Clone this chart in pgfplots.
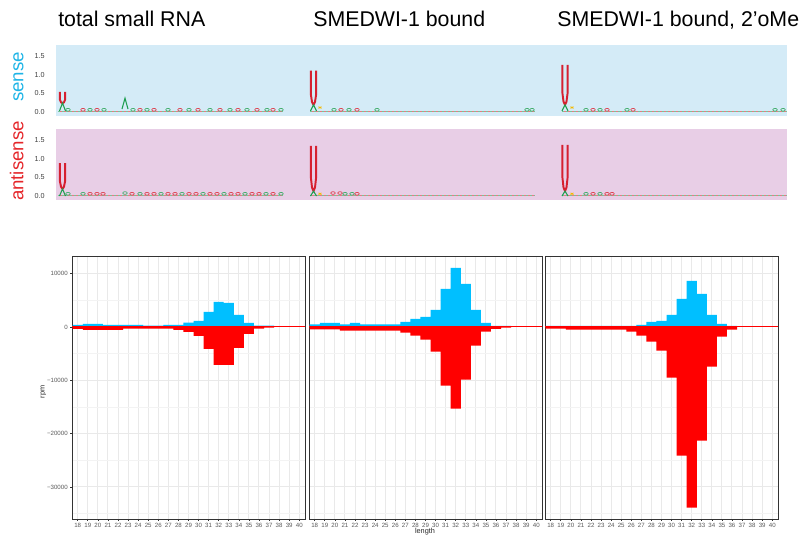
\documentclass[border=0pt]{standalone}
\usepackage{pgfplots}
\pgfplotsset{compat=1.18}
\usepackage{fontspec}
\setmainfont{Liberation Sans}
\definecolor{barblue}{HTML}{00BFFF}
\definecolor{barred}{HTML}{FF0000}
\definecolor{senseTxt}{RGB}{30,180,230}
\definecolor{antiTxt}{RGB}{229,38,42}
\definecolor{senseBG}{RGB}{212,235,247}
\definecolor{antiBG}{RGB}{232,206,230}
\definecolor{logoU}{RGB}{214,32,48}
\definecolor{logoA}{RGB}{30,158,80}
\definecolor{logoY}{RGB}{245,184,0}
\definecolor{logoBase}{RGB}{190,195,160}
\definecolor{gridmaj}{RGB}{233,233,233}
\definecolor{gridmin}{RGB}{243,243,243}
\definecolor{frame}{RGB}{51,51,51}
\pgfplotsset{
 panel/.style={scale only axis, anchor=north west, width=174.75pt, height=197.25pt,
  xmin=17.43, xmax=40.57, ymin=-36000, ymax=13300,
  ybar, bar width=1, bar shift=0pt,
  xtick={18,...,40}, ytick={-30000,-20000,-10000,0,10000},
  minor ytick={-35000,-25000,-15000,-5000,5000},
  scaled y ticks=false, tick pos=left,
  grid=both, major grid style={draw=gridmaj, line width=0.75pt},
  minor grid style={draw=gridmin, line width=0.4pt},
  axis line style={draw=frame, line width=0.75pt},
  tick align=outside, major tick length=1.5pt, minor tick length=0pt,
  tick style={draw=frame, line width=0.5pt},
  /pgf/number format/assume math mode=true,
  xticklabel style={font=\fontsize{4.6}{5}\selectfont, text=black!65, inner sep=0pt, yshift=-1.2pt},
  yticklabel style={font=\fontsize{4.6}{5}\selectfont, text=black!65, inner sep=0pt, xshift=-1.5pt},
 },
 logo/.style={scale only axis, anchor=north west, width=548.25pt, height=53.25pt,
  xmin=56, xmax=787, ymin=-0.107, ymax=1.795,
  axis line style={draw=none}, xtick=\empty, ytick={0,0.5,1,1.5},
  yticklabels={0.0,0.5,1.0,1.5}, tick style={draw=none},
  yticklabel style={font=\fontsize{5.4}{6}\selectfont, text=black!75, inner sep=0pt, xshift=-8.25pt},
  clip=false},
 baseL/.style={draw=logoBase, line width=0.8pt, mark=none},
 baseG/.style={draw=logoA!60, line width=0.5pt, dash pattern=on 1.5pt off 1.5pt, mark=none},
 baseR/.style={draw=logoU!60, line width=0.5pt, dash pattern=on 1.5pt off 1.5pt, dash phase=1.5pt, mark=none},
 bumpG/.style={only marks, mark=o, mark size=1.7pt, mark options={draw=logoA!85, yscale=0.6, line width=0.5pt}},
 bumpR/.style={only marks, mark=o, mark size=1.7pt, mark options={draw=logoU!85, yscale=0.6, line width=0.5pt}},
 bumpY/.style={only marks, mark=x, mark size=1.6pt, mark options={draw=logoY, yscale=0.6, line width=0.6pt}},
 Ushape/.style={draw=logoU, line width=1.45pt, line join=round, mark=none},
 Ashape/.style={draw=logoA, line width=0.8pt, mark=none},
}
\begin{document}
\begin{tikzpicture}
\path[use as bounding box] (0,0) rectangle (603.75pt,-401.25pt);

% titles
\node[anchor=base west, inner sep=0pt, font=\fontsize{16}{19}\selectfont] at (43.5pt,-20.25pt) {total small RNA};
\node[anchor=base west, inner sep=0pt, font=\fontsize{16}{19}\selectfont] at (234.75pt,-20.25pt) {SMEDWI-1 bound};
\node[anchor=base west, inner sep=0pt, font=\fontsize{16}{19}\selectfont] at (417.75pt,-20.25pt) {SMEDWI-1 bound, 2’oMe};

% row labels
\node[rotate=90, anchor=base, inner sep=0pt, text=senseTxt, font=\fontsize{14}{17}\selectfont] at (17.6pt,-57.75pt) {sense};
\node[rotate=90, anchor=base, inner sep=0pt, text=antiTxt, font=\fontsize{14}{17}\selectfont] at (17.6pt,-120.75pt) {antisense};

% ---------- sense logos ----------
\begin{axis}[logo, at={(42pt,-33.75pt)}, axis background/.style={fill=senseBG}]
\addplot[baseL] coordinates {(58,0.01) (283,0.01)};
\addplot[baseL] coordinates {(310,0.01) (535,0.01)};
\addplot[baseL] coordinates {(562,0.01) (787,0.01)};
\addplot[baseG] coordinates {(58,0.03) (283,0.03)};
\addplot[baseR] coordinates {(58,0.03) (283,0.03)};
\addplot[baseG] coordinates {(310,0.03) (535,0.03)};
\addplot[baseR] coordinates {(310,0.03) (535,0.03)};
\addplot[baseG] coordinates {(562,0.03) (787,0.03)};
\addplot[baseR] coordinates {(562,0.03) (787,0.03)};
\addplot[bumpG] coordinates {(68,0.06) (90,0.06) (104,0.06) (133,0.06) (147,0.06) (168,0.06) (189,0.06) (210,0.06) (230,0.06) (247,0.06) (267,0.06) (281,0.06)
  (334,0.06) (349,0.06) (377,0.06) (527,0.06) (532,0.06)
  (586,0.06) (600,0.06) (627,0.06) (775,0.06) (783,0.06)};
\addplot[bumpR] coordinates {(83,0.06) (97,0.06) (140,0.06) (154,0.06) (180,0.06) (198,0.06) (220,0.06) (238,0.06) (257,0.06) (273,0.06)
  (341,0.06) (357,0.06) (593,0.06) (607,0.06) (633,0.06)};
\addplot[bumpY] coordinates {(320,0.12) (572,0.12)};
\addplot[Ushape] coordinates {(59.9,0.54) (59.9,0.33) (61,0.26) (62.5,0.24) (64,0.26) (65.1,0.33) (65.1,0.54)};
\addplot[Ushape] coordinates {(310.9,1.11) (310.9,0.46) (312,0.27) (313.5,0.19) (315,0.27) (316.1,0.46) (316.1,1.11)};
\addplot[Ushape] coordinates {(562.4,1.26) (562.4,0.51) (563.5,0.28) (565,0.19) (566.5,0.28) (567.6,0.51) (567.6,1.26)};
\addplot[Ashape] coordinates {(59.5,0.03) (62.5,0.24) (65.5,0.03)};
\addplot[Ashape] coordinates {(122,0.08) (125,0.37) (128,0.08)};
\addplot[Ashape] coordinates {(310.5,0.03) (313.5,0.19) (316.5,0.03)};
\addplot[Ashape] coordinates {(562,0.03) (565,0.19) (568,0.03)};
\end{axis}

% ---------- antisense logos ----------
\begin{axis}[logo, at={(42pt,-96.75pt)}, axis background/.style={fill=antiBG}]
\addplot[baseL] coordinates {(58,0.01) (283,0.01)};
\addplot[baseL] coordinates {(310,0.01) (535,0.01)};
\addplot[baseL] coordinates {(562,0.01) (787,0.01)};
\addplot[baseG] coordinates {(58,0.03) (283,0.03)};
\addplot[baseR] coordinates {(58,0.03) (283,0.03)};
\addplot[baseG] coordinates {(310,0.03) (535,0.03)};
\addplot[baseR] coordinates {(310,0.03) (535,0.03)};
\addplot[baseG] coordinates {(562,0.03) (787,0.03)};
\addplot[baseR] coordinates {(562,0.03) (787,0.03)};
\addplot[bumpG] coordinates {(68,0.06) (83,0.06) (125,0.08) (140,0.06) (161,0.06) (182,0.06) (203,0.06) (224,0.06) (245,0.06) (266,0.06) (281,0.06)
  (345,0.06) (352,0.06) (586,0.06) (600,0.06)};
\addplot[bumpR] coordinates {(90,0.06) (97,0.06) (103,0.06) (132,0.06) (147,0.06) (154,0.06) (168,0.06) (175,0.06) (189,0.06) (196,0.06) (210,0.06) (217,0.06) (231,0.06) (238,0.06) (252,0.06) (259,0.06) (273,0.06)
  (333,0.08) (340,0.08) (357,0.06) (593,0.06) (607,0.06) (612,0.06)};
\addplot[bumpY] coordinates {(320,0.06) (572,0.06)};
\addplot[Ushape] coordinates {(59.9,0.88) (59.9,0.40) (61,0.25) (62.5,0.19) (64,0.25) (65.1,0.40) (65.1,0.88)};
\addplot[Ushape] coordinates {(310.9,1.34) (310.9,0.49) (312,0.23) (313.5,0.13) (315,0.23) (316.1,0.49) (316.1,1.34)};
\addplot[Ushape] coordinates {(562.4,1.37) (562.4,0.50) (563.5,0.23) (565,0.13) (566.5,0.23) (567.6,0.50) (567.6,1.37)};
\addplot[Ashape] coordinates {(59.5,0.0) (62.5,0.19) (65.5,0.0)};
\addplot[Ashape] coordinates {(310.5,0.0) (313.5,0.13) (316.5,0.0)};
\addplot[Ashape] coordinates {(562,0.0) (565,0.13) (568,0.0)};
\end{axis}

% ---------- panel 1 ----------
\begin{axis}[panel, at={(54pt,-192pt)}, yticklabels={−30000,−20000,−10000,0,10000}]
\addplot[fill=barblue, draw=none] coordinates {(18,400) (19,560) (20,560) (21,375) (22,375) (23,375) (24,375) (25,250) (26,250) (27,375) (28,375) (29,810) (30,1125) (31,2810) (32,4690) (33,4500) (34,2250) (35,750) (36,250) (37,250)};
\addplot[fill=barred, draw=none] coordinates {(18,-375) (19,-560) (20,-560) (21,-560) (22,-560) (23,-310) (24,-310) (25,-310) (26,-310) (27,-310) (28,-560) (29,-940) (30,-1690) (31,-4125) (32,-7125) (33,-7125) (34,-3940) (35,-1310) (36,-310) (37,-125)};
\addplot[sharp plot, draw=barred, line width=0.75pt] coordinates {(17.43,0) (40.57,0)};
\end{axis}

% ---------- panel 2 ----------
\begin{axis}[panel, at={(231.75pt,-192pt)}, yticklabels={}, ytick style={draw=none}]
\addplot[fill=barblue, draw=none] coordinates {(18,500) (19,750) (20,750) (21,500) (22,750) (23,500) (24,500) (25,500) (26,500) (27,940) (28,1500) (29,1875) (30,3190) (31,7125) (32,11060) (33,8060) (34,3190) (35,750) (36,190) (37,190)};
\addplot[fill=barred, draw=none] coordinates {(18,-440) (19,-440) (20,-440) (21,-690) (22,-690) (23,-690) (24,-690) (25,-690) (26,-690) (27,-1060) (28,-1625) (29,-2375) (30,-4625) (31,-11000) (32,-15310) (33,-9875) (34,-3500) (35,-875) (36,-375) (37,-125)};
\addplot[sharp plot, draw=barred, line width=0.75pt] coordinates {(17.43,0) (40.57,0)};
\end{axis}

% ---------- panel 3 ----------
\begin{axis}[panel, at={(408.75pt,-192pt)}, yticklabels={}, ytick style={draw=none}]
\addplot[fill=barblue, draw=none] coordinates {(18,190) (19,190) (20,190) (21,190) (22,190) (23,190) (24,190) (25,190) (26,190) (27,375) (28,940) (29,1125) (30,2250) (31,5250) (32,8625) (33,6190) (34,2250) (35,560) (36,190)};
\addplot[fill=barred, draw=none] coordinates {(18,-310) (19,-310) (20,-500) (21,-500) (22,-500) (23,-500) (24,-500) (25,-500) (26,-875) (27,-1625) (28,-2750) (29,-4440) (30,-9500) (31,-24125) (32,-33875) (33,-21310) (34,-7440) (35,-1810) (36,-500)};
\addplot[sharp plot, draw=barred, line width=0.75pt] coordinates {(17.43,0) (40.57,0)};
\end{axis}

% axis titles
\node[rotate=90, anchor=base, inner sep=0pt, font=\fontsize{5.5}{6}\selectfont, text=black!85] at (33.4pt,-293.8pt) {rpm};
\node[anchor=north, inner sep=0pt, font=\fontsize{5.5}{6}\selectfont, text=black!85] at (318.75pt,-396.3pt) {length};
\end{tikzpicture}
\end{document}
